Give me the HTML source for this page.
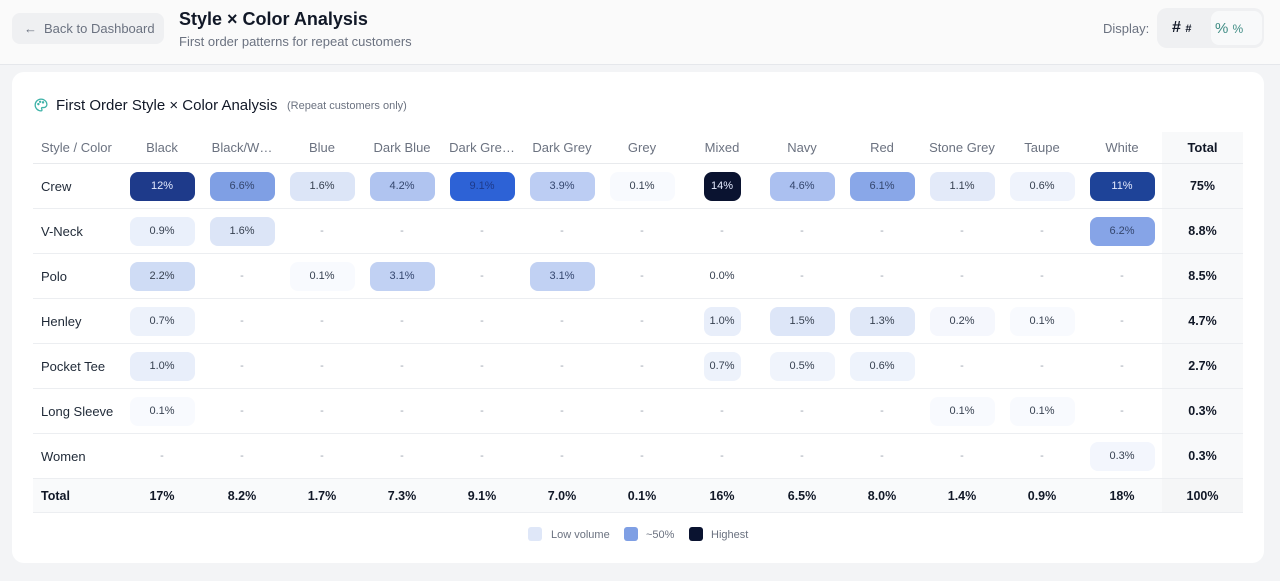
<!DOCTYPE html>
<html><head><meta charset="utf-8">
<style>
*{box-sizing:border-box;margin:0;padding:0}
html,body{width:1280px;height:581px;overflow:hidden}
body{background:#f3f4f6;font-family:"Liberation Sans",Arial,sans-serif;position:relative;color:#1f2937}
.hdr{position:absolute;left:0;top:0;width:1280px;height:65px;background:#fafafa;border-bottom:1px solid #e5e7eb}
.back{position:absolute;left:12px;top:13px;width:152px;height:31px;background:#eff0f2;border-radius:8px;font-size:13px;color:#6b7280;line-height:31px;padding-left:32px}
.back .ar{position:absolute;left:12px;top:0;font-size:13px;color:#6b7280}
.title{position:absolute;left:179px;top:9px;font-size:18px;font-weight:bold;color:#111827}
.sub{position:absolute;left:179px;top:34px;font-size:13px;color:#6b7280}
.disp{position:absolute;left:1103px;top:21px;font-size:13px;color:#6b7280}
.tog{position:absolute;left:1157px;top:8px;width:107px;height:40px;background:#eff0f2;border-radius:10px}
.tog .a{position:absolute;left:15px;top:10px;font-size:16px;font-weight:bold;color:#111827;line-height:20px}
.tog .a small{font-size:11px;font-weight:bold}
.tog .b{position:absolute;left:54px;top:3px;width:51px;height:34px;background:#f8f9fa;border-radius:8px;color:#3f8c84;font-size:15px;line-height:35px;padding-left:4px}
.tog .b small{font-size:12px}
.card{position:absolute;left:12px;top:72px;width:1252px;height:491px;background:#fff;border-radius:12px}
.ct{position:absolute;left:56px;top:97px;font-size:15px;color:#111827}
.cs{position:absolute;left:287px;top:100px;font-size:11px;color:#6b7280}
.row{position:absolute;left:33px;width:1210px;height:45px;display:flex;border-bottom:1px solid #eceef1}
.row>div{height:100%;display:flex;align-items:center;justify-content:center;width:80px;font-size:11px;color:#374151}
.row>.c0{width:89px;justify-content:flex-start;padding-left:8px;font-size:13px;color:#1f2937}
.row>.t{width:81px;background:#f8f9fa;font-weight:bold;font-size:12.5px;color:#111827}
.row .d{color:#9ca3af}
.hd{top:132px;height:32px;border-bottom:1px solid #e8eaed}
.hd>div{font-size:13px;color:#6b7280}
.hd>.c0{color:#6b7280}
.hd>.t{font-size:13px}
.tot{top:479px;height:34px;background:#f9fafb}
.tot>div{font-weight:bold;font-size:12.5px;color:#111827}
.tot>.c0{font-size:12.5px;font-weight:bold;color:#111827}
.p{width:65px;height:29px;border-radius:8px;display:flex;align-items:center;justify-content:center;font-size:11px;color:#374151}
.n{width:37px}
.w{color:#e5ebff}
.m{color:#34466e}
.leg{position:absolute;top:528px;height:14px;font-size:11px;color:#6b7280;line-height:14px}
.sw{position:absolute;top:527px;width:14px;height:14px;border-radius:3px}
</style></head><body>
<div class="hdr">
  <div class="back"><span class="ar">←</span>Back to Dashboard</div>
  <div class="title">Style × Color Analysis</div>
  <div class="sub">First order patterns for repeat customers</div>
  <div class="disp">Display:</div>
  <div class="tog"><div class="a"># <small>#</small></div><div class="b">% <small>%</small></div></div>
</div>
<div class="card"></div>
<svg style="position:absolute;left:34px;top:98px" width="14" height="14" viewBox="0 0 24 24" fill="none" stroke="#3fb3a8" stroke-width="2.2" stroke-linecap="round" stroke-linejoin="round"><path d="M12 2C6.5 2 2 6.5 2 12s4.5 10 10 10c.9 0 1.7-.8 1.7-1.7 0-.4-.2-.8-.4-1.1-.3-.3-.4-.7-.4-1.1 0-.9.8-1.7 1.7-1.7h2c3 0 5.5-2.5 5.5-5.5C22 6 17.5 2 12 2z"/><circle cx="7.5" cy="10.5" r="1"/><circle cx="10.5" cy="6.5" r="1"/><circle cx="15.5" cy="7.5" r="1"/></svg>
<div class="ct">First Order Style × Color Analysis</div>
<div class="cs">(Repeat customers only)</div>

<div class="row hd"><div class="c0">Style / Color</div><div>Black</div><div>Black/W…</div><div>Blue</div><div>Dark Blue</div><div>Dark Gre…</div><div>Dark Grey</div><div>Grey</div><div>Mixed</div><div>Navy</div><div>Red</div><div>Stone Grey</div><div>Taupe</div><div>White</div><div class="t">Total</div></div>

<div class="row" style="top:164px"><div class="c0">Crew</div>
<div><span class="p w" style="background:#1e3a8a">12%</span></div>
<div><span class="p m" style="background:#7f9fe4">6.6%</span></div>
<div><span class="p" style="background:#dce5f7">1.6%</span></div>
<div><span class="p m" style="background:#b0c4f0">4.2%</span></div>
<div><span class="p" style="background:#2d62d6;color:#1e3a8a">9.1%</span></div>
<div><span class="p m" style="background:#bccdf3">3.9%</span></div>
<div><span class="p" style="background:#f8fafe">0.1%</span></div>
<div><span class="p n w" style="background:#0a1330">14%</span></div>
<div><span class="p m" style="background:#abc0f0">4.6%</span></div>
<div><span class="p m" style="background:#89a7e8">6.1%</span></div>
<div><span class="p" style="background:#e3eaf9">1.1%</span></div>
<div><span class="p" style="background:#eff3fc">0.6%</span></div>
<div><span class="p w" style="background:#1e4398">11%</span></div>
<div class="t">75%</div></div>

<div class="row" style="top:209px"><div class="c0">V-Neck</div>
<div><span class="p" style="background:#eaf0fb">0.9%</span></div>
<div><span class="p" style="background:#dce5f7">1.6%</span></div>
<div class="d">-</div><div class="d">-</div><div class="d">-</div><div class="d">-</div><div class="d">-</div><div class="d">-</div><div class="d">-</div><div class="d">-</div><div class="d">-</div><div class="d">-</div>
<div><span class="p m" style="background:#86a4e7">6.2%</span></div>
<div class="t">8.8%</div></div>

<div class="row" style="top:254px"><div class="c0">Polo</div>
<div><span class="p" style="background:#cfdcf5">2.2%</span></div>
<div class="d">-</div>
<div><span class="p" style="background:#f8fafe">0.1%</span></div>
<div><span class="p m" style="background:#c1d1f3">3.1%</span></div>
<div class="d">-</div>
<div><span class="p m" style="background:#c1d1f3">3.1%</span></div>
<div class="d">-</div>
<div>0.0%</div>
<div class="d">-</div><div class="d">-</div><div class="d">-</div><div class="d">-</div><div class="d">-</div>
<div class="t">8.5%</div></div>

<div class="row" style="top:299px"><div class="c0">Henley</div>
<div><span class="p" style="background:#edf2fb">0.7%</span></div>
<div class="d">-</div><div class="d">-</div><div class="d">-</div><div class="d">-</div><div class="d">-</div><div class="d">-</div>
<div><span class="p n" style="background:#e8eefa">1.0%</span></div>
<div><span class="p" style="background:#dde6f8">1.5%</span></div>
<div><span class="p" style="background:#e0e8f8">1.3%</span></div>
<div><span class="p" style="background:#f5f7fd">0.2%</span></div>
<div><span class="p" style="background:#f8fafe">0.1%</span></div>
<div class="d">-</div>
<div class="t">4.7%</div></div>

<div class="row" style="top:344px"><div class="c0">Pocket Tee</div>
<div><span class="p" style="background:#e8eefa">1.0%</span></div>
<div class="d">-</div><div class="d">-</div><div class="d">-</div><div class="d">-</div><div class="d">-</div><div class="d">-</div>
<div><span class="p n" style="background:#edf2fb">0.7%</span></div>
<div><span class="p" style="background:#f0f4fc">0.5%</span></div>
<div><span class="p" style="background:#eef3fc">0.6%</span></div>
<div class="d">-</div><div class="d">-</div><div class="d">-</div>
<div class="t">2.7%</div></div>

<div class="row" style="top:389px"><div class="c0">Long Sleeve</div>
<div><span class="p" style="background:#f8fafe">0.1%</span></div>
<div class="d">-</div><div class="d">-</div><div class="d">-</div><div class="d">-</div><div class="d">-</div><div class="d">-</div><div class="d">-</div><div class="d">-</div><div class="d">-</div>
<div><span class="p" style="background:#f8fafe">0.1%</span></div>
<div><span class="p" style="background:#f8fafe">0.1%</span></div>
<div class="d">-</div>
<div class="t">0.3%</div></div>

<div class="row" style="top:434px"><div class="c0">Women</div>
<div class="d">-</div><div class="d">-</div><div class="d">-</div><div class="d">-</div><div class="d">-</div><div class="d">-</div><div class="d">-</div><div class="d">-</div><div class="d">-</div><div class="d">-</div><div class="d">-</div><div class="d">-</div>
<div><span class="p" style="background:#f3f6fd">0.3%</span></div>
<div class="t">0.3%</div></div>

<div class="row tot"><div class="c0">Total</div><div>17%</div><div>8.2%</div><div>1.7%</div><div>7.3%</div><div>9.1%</div><div>7.0%</div><div>0.1%</div><div>16%</div><div>6.5%</div><div>8.0%</div><div>1.4%</div><div>0.9%</div><div>18%</div><div class="t" style="background:#f5f6f7">100%</div></div>

<div class="sw" style="left:528px;background:#dfe7f8"></div><div class="leg" style="left:551px">Low volume</div>
<div class="sw" style="left:624px;background:#7f9fe4"></div><div class="leg" style="left:646px">~50%</div>
<div class="sw" style="left:689px;background:#0a1330"></div><div class="leg" style="left:711px">Highest</div>
</body></html>
